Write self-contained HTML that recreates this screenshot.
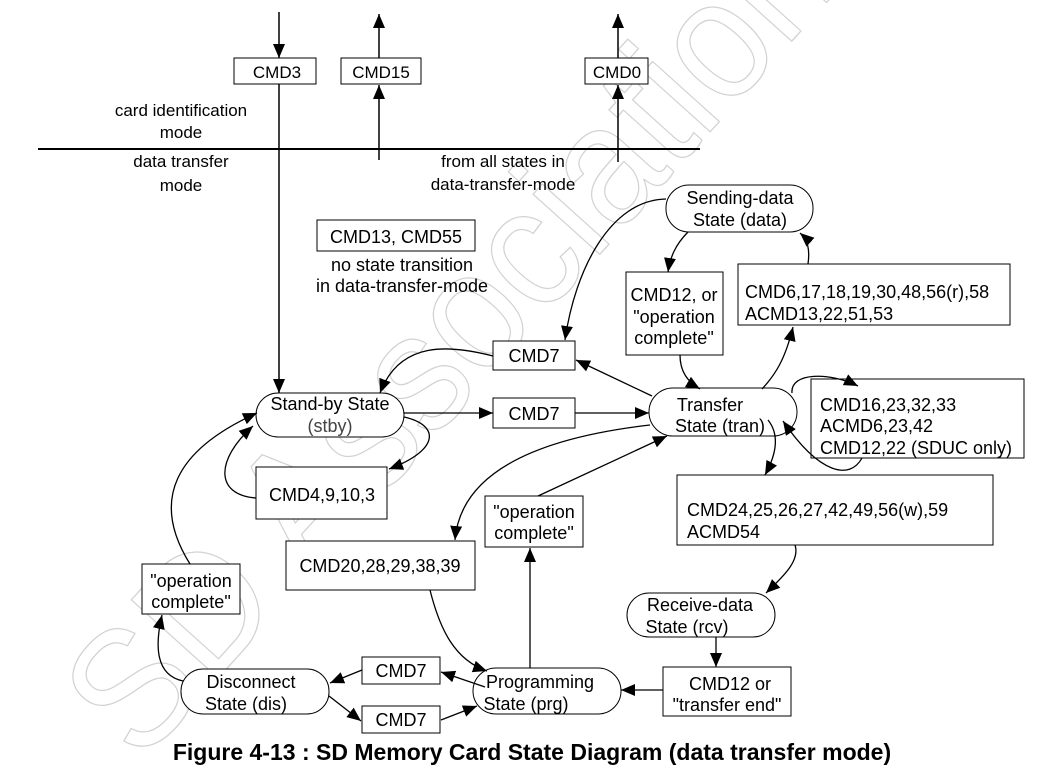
<!DOCTYPE html>
<html><head><meta charset="utf-8"><style>
html,body{margin:0;padding:0;background:#fff;}
svg{display:block;font-family:"Liberation Sans",Arial,sans-serif;}
</style></head><body>
<svg width="1064" height="769" viewBox="0 0 1064 769" xmlns="http://www.w3.org/2000/svg">
<defs>
<marker id="a" viewBox="0 0 14 12" refX="14" refY="6" markerWidth="14" markerHeight="12" markerUnits="userSpaceOnUse" orient="auto">
<path d="M0,0 L14,6 L0,12 z" fill="#000"/></marker>
</defs>
<rect width="1064" height="769" fill="#fff"/>
<text x="0" y="0" transform="translate(140,765) rotate(-48)" font-size="170" fill="none" stroke="#d2d2d2" stroke-width="1.3" textLength="1050" lengthAdjust="spacingAndGlyphs">SD Association</text>

<g fill="none" stroke="#000" stroke-width="1.5">
<line x1="38" y1="149" x2="700" y2="149" stroke-width="2"/>
<line x1="279" y1="12" x2="279" y2="58" marker-end="url(#a)"/>
<line x1="279" y1="84" x2="279" y2="393" marker-end="url(#a)"/>
<line x1="379" y1="58" x2="379" y2="14" marker-end="url(#a)"/>
<line x1="379" y1="160" x2="379" y2="85" marker-end="url(#a)"/>
<line x1="618" y1="58" x2="618" y2="14" marker-end="url(#a)"/>
<line x1="618" y1="162" x2="618" y2="85" marker-end="url(#a)"/>
</g>
<g fill="#fff" stroke="#000" stroke-width="1">
<rect x="234" y="58" width="82" height="26"/>
<rect x="341" y="58" width="80" height="26"/>
<rect x="585" y="58" width="63" height="26"/>
<rect x="317" y="220" width="158" height="31"/>
<rect x="626" y="272" width="97" height="83"/>
<rect x="738" y="264" width="272" height="61"/>
<rect x="493" y="341" width="82" height="29"/>
<rect x="493" y="398" width="82" height="30"/>
<rect x="811" y="379" width="213" height="79"/>
<rect x="256" y="467" width="131" height="52"/>
<rect x="485" y="496" width="98" height="51"/>
<rect x="286" y="541" width="189" height="49"/>
<rect x="677" y="475" width="316" height="70"/>
<rect x="663" y="667" width="128" height="49"/>
<rect x="362" y="657" width="78" height="27"/>
<rect x="362" y="706" width="78" height="27"/>
<rect x="142" y="564" width="98" height="50"/>
<rect x="666" y="185" width="147" height="47" rx="23"/>
<rect x="256" y="393" width="148" height="44" rx="22"/>
<rect x="649" y="388" width="148" height="48" rx="24"/>
<rect x="627" y="593" width="148" height="44" rx="22"/>
<rect x="473" y="668" width="148" height="46" rx="23"/>
<rect x="181" y="669" width="148" height="45" rx="22"/>
</g>

<g fill="none" stroke="#000" stroke-width="1.3">
<path d="M666,199 C610,200 575,270 565,340" marker-end="url(#a)"/>
<path d="M688,232 C675,245 670,258 668,272" marker-end="url(#a)"/>
<path d="M680,355 C680,372 688,382 700,389" marker-end="url(#a)"/>
<path d="M762,389 C775,375 785,360 793,327" marker-end="url(#a)"/>
<path d="M808,264 C810,250 808,240 800,233" marker-end="url(#a)"/>
<path d="M792,393 C790,372 830,372 858,386" marker-end="url(#a)"/>
<path d="M862,458 C850,480 820,475 783,421" marker-end="url(#a)"/>
<path d="M768,420 C780,435 776,455 765,475" marker-end="url(#a)"/>
<path d="M795,545 C800,560 785,575 766,593" marker-end="url(#a)"/>
<line x1="716" y1="637" x2="716" y2="667" marker-end="url(#a)"/>
<line x1="663" y1="690" x2="621" y2="690" marker-end="url(#a)"/>
<line x1="652" y1="396" x2="576" y2="360" marker-end="url(#a)"/>
<path d="M493,356 C450,345 400,340 380,393" marker-end="url(#a)"/>
<line x1="404" y1="413" x2="493" y2="413" marker-end="url(#a)"/>
<line x1="575" y1="413" x2="649" y2="413" marker-end="url(#a)"/>
<path d="M404,417 C440,425 440,450 389,469" marker-end="url(#a)"/>
<path d="M256,498 C215,495 215,460 253,426" marker-end="url(#a)"/>
<path d="M650,425 C520,440 460,480 455,540" marker-end="url(#a)"/>
<path d="M430,590 C440,630 455,660 487,671" marker-end="url(#a)"/>
<line x1="538" y1="496" x2="667" y2="436" marker-end="url(#a)"/>
<line x1="530" y1="668" x2="530" y2="548" marker-end="url(#a)"/>
<line x1="485" y1="687" x2="441" y2="672" marker-end="url(#a)"/>
<line x1="362" y1="670" x2="330" y2="683" marker-end="url(#a)"/>
<line x1="329" y1="696" x2="361" y2="721" marker-end="url(#a)"/>
<line x1="441" y1="720" x2="477" y2="706" marker-end="url(#a)"/>
<path d="M183,681 C155,675 155,645 162,615" marker-end="url(#a)"/>
<path d="M190,564 C150,500 175,450 257,413" marker-end="url(#a)"/>
</g>

<g font-size="17" fill="#000" text-anchor="middle">
<text x="277" y="78">CMD3</text>
<text x="381" y="78">CMD15</text>
<text x="617" y="78">CMD0</text>
<text x="181" y="116">card identification</text>
<text x="181" y="138">mode</text>
<text x="181" y="167">data transfer</text>
<text x="181" y="191">mode</text>
<text x="503" y="167">from all states in</text>
<text x="503" y="190">data-transfer-mode</text>
</g>
<g font-size="18" fill="#000" text-anchor="middle">
<text x="396" y="243">CMD13, CMD55</text>
<text x="402" y="271">no state transition</text>
<text x="402" y="292">in data-transfer-mode</text>
<text x="740" y="204">Sending-data</text>
<text x="740" y="226">State (data)</text>
<text x="674" y="301">CMD12, or</text>
<text x="674" y="323">"operation</text>
<text x="674" y="344">complete"</text>
<text x="534" y="362">CMD7</text>
<text x="534" y="420">CMD7</text>
<text x="330" y="410">Stand-by State</text>
<text x="330" y="432" fill="#444">(stby)</text>
<text x="710" y="411">Transfer</text>
<text x="720" y="432">State (tran)</text>
<text x="322" y="501">CMD4,9,10,3</text>
<text x="534" y="518">"operation</text>
<text x="534" y="539">complete"</text>
<text x="380" y="572">CMD20,28,29,38,39</text>
<text x="191" y="587">"operation</text>
<text x="191" y="608">complete"</text>
<text x="700" y="611">Receive-data</text>
<text x="687" y="633">State (rcv)</text>
<text x="730" y="690">CMD12 or</text>
<text x="727" y="711">"transfer end"</text>
<text x="401" y="677">CMD7</text>
<text x="401" y="726">CMD7</text>
<text x="251" y="688">Disconnect</text>
<text x="246" y="710">State (dis)</text>
<text x="540" y="688">Programming</text>
<text x="526" y="710">State (prg)</text>
</g>
<g font-size="18" fill="#000">
<text x="745" y="298">CMD6,17,18,19,30,48,56(r),58</text>
<text x="745" y="320">ACMD13,22,51,53</text>
<text x="820" y="411">CMD16,23,32,33</text>
<text x="820" y="432">ACMD6,23,42</text>
<text x="820" y="454">CMD12,22 (SDUC only)</text>
<text x="687" y="516">CMD24,25,26,27,42,49,56(w),59</text>
<text x="687" y="538">ACMD54</text>
</g>
<text x="532" y="760" font-size="23" font-weight="bold" text-anchor="middle">Figure 4-13 : SD Memory Card State Diagram (data transfer mode)</text>
</svg>
</body></html>
